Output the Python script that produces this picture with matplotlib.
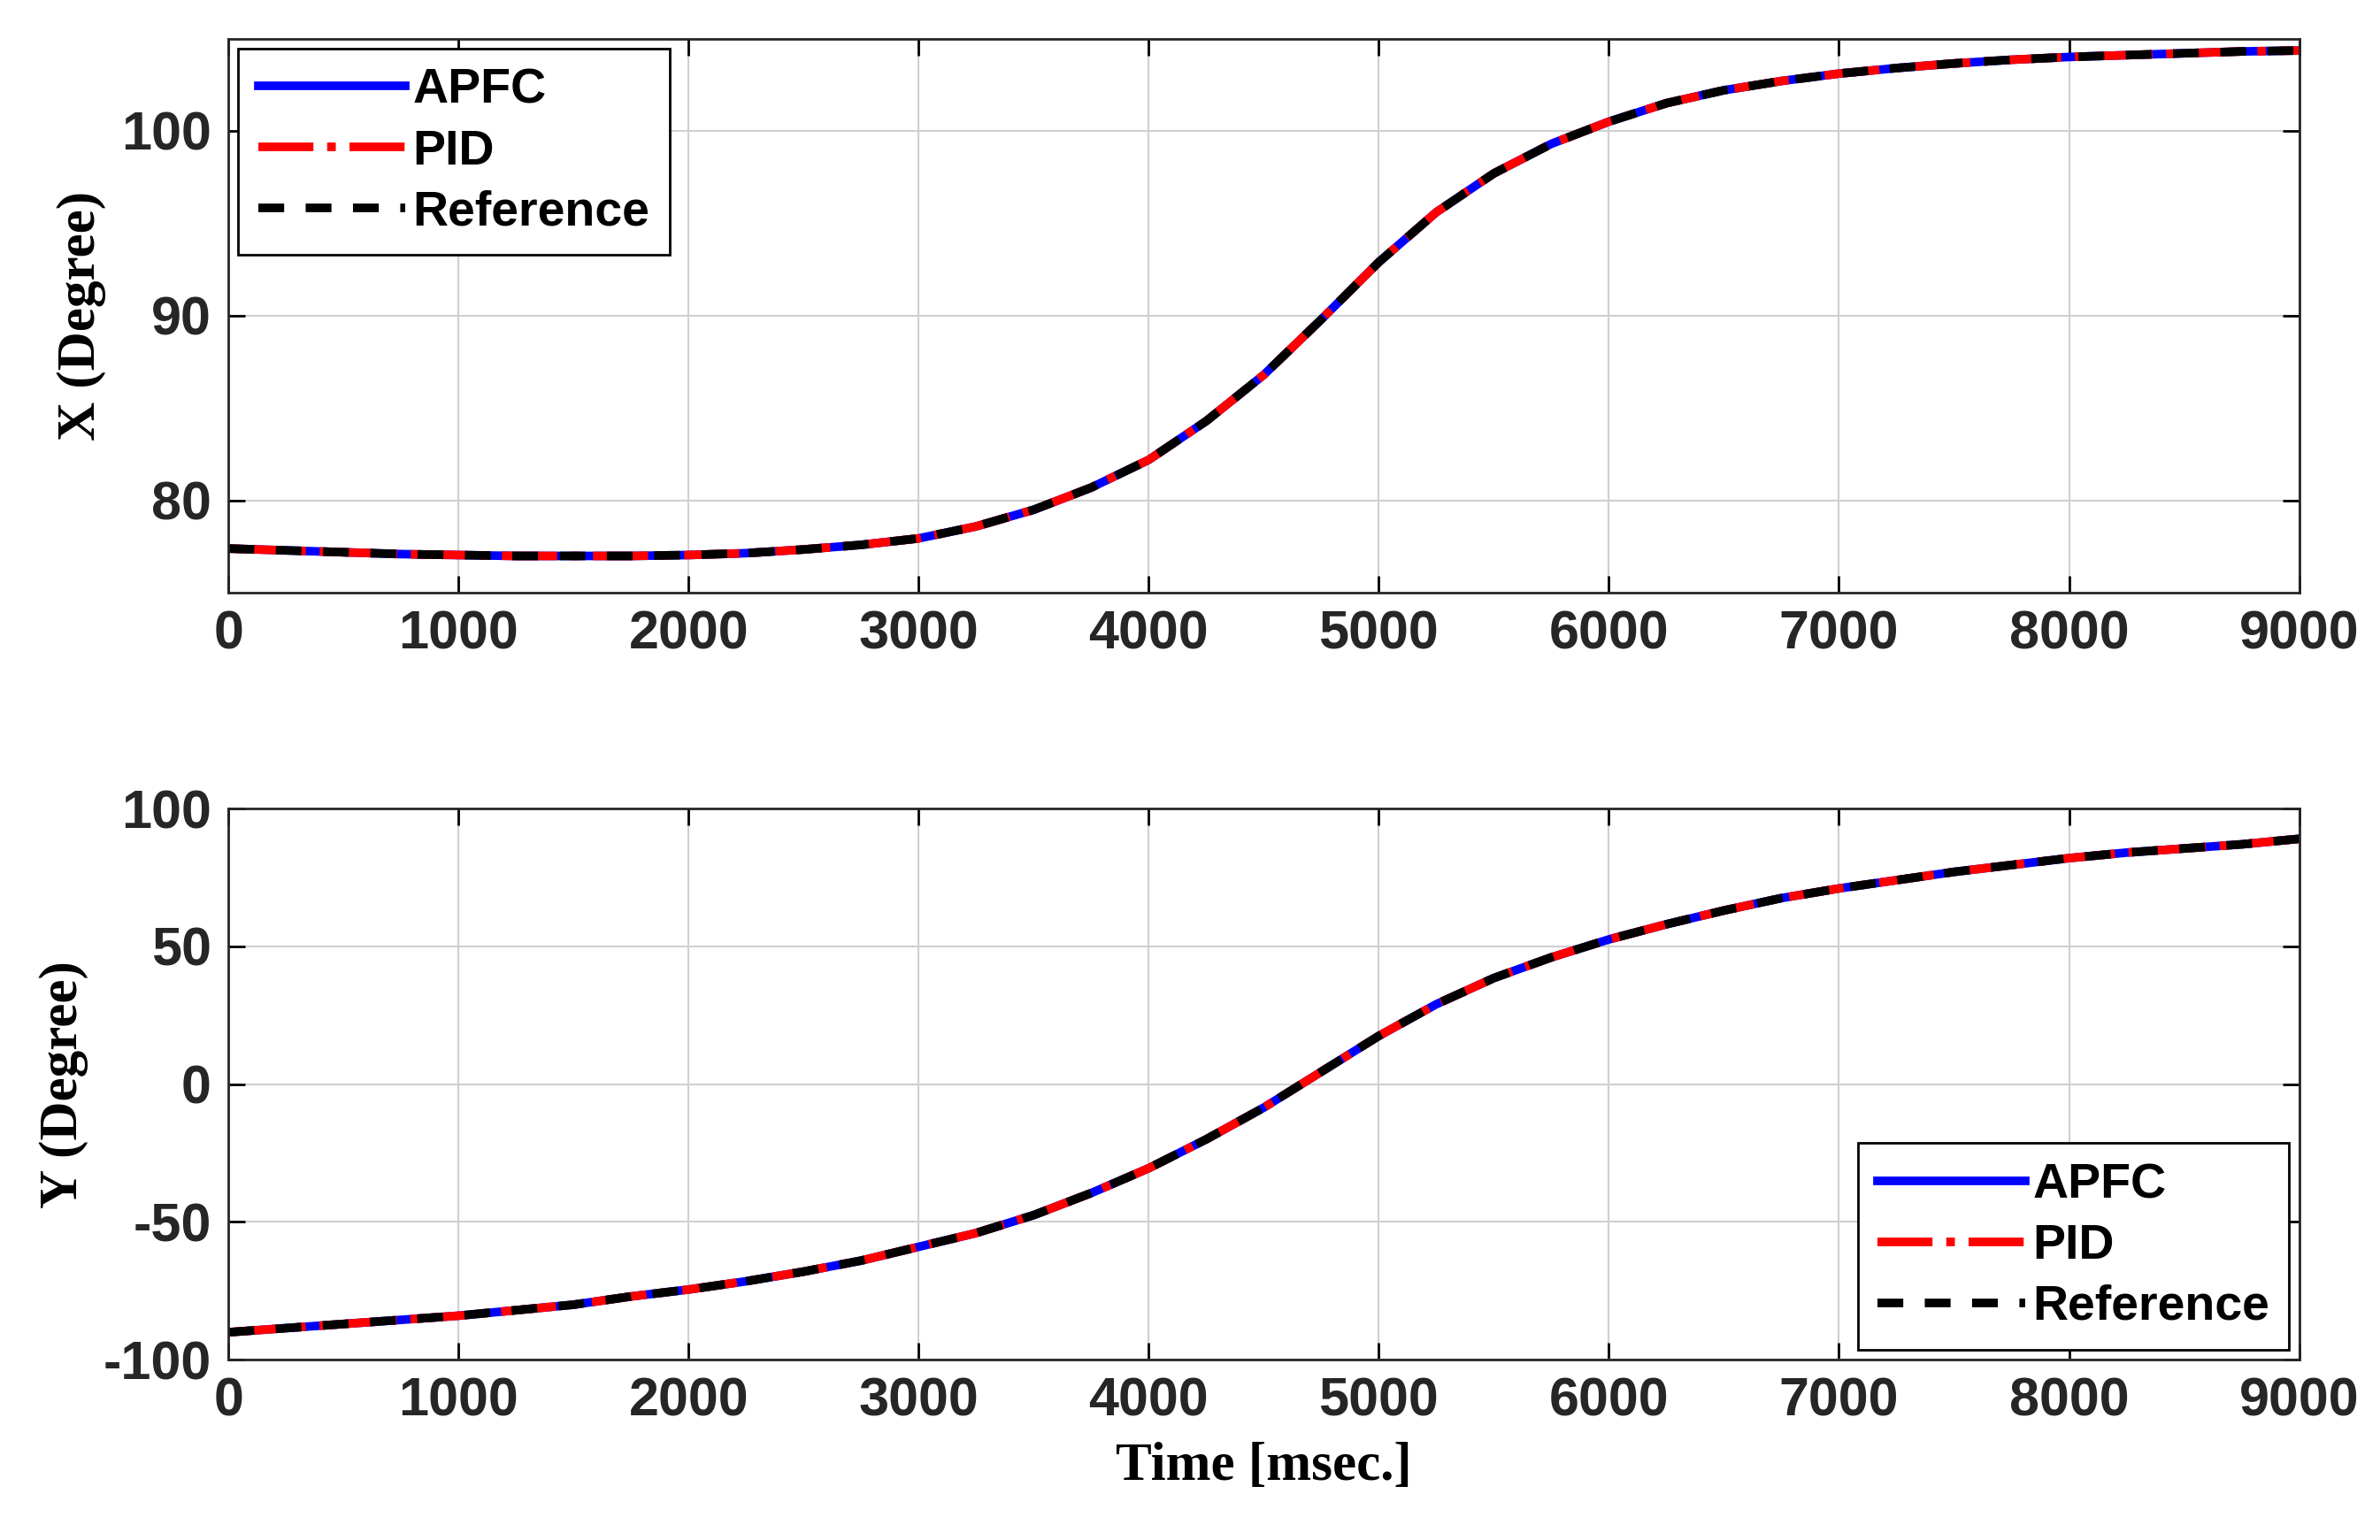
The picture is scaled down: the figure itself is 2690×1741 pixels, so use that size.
import numpy as np
import matplotlib
matplotlib.use("Agg")
import matplotlib.pyplot as plt

plt.rcParams['axes.unicode_minus'] = False

t = [0, 250, 500, 750, 1000, 1250, 1500, 1750, 2000, 2250, 2500, 2750, 3000, 3250, 3500, 3750,
     4000, 4250, 4500, 4750, 5000, 5250, 5500, 5750, 6000, 6250, 6500, 6750, 7000, 7250, 7500,
     7750, 8000, 8250, 8500, 8750, 9000]
x_ref = [77.4, 77.3, 77.2, 77.1, 77.05, 77.0, 77.0, 77.0, 77.05, 77.15, 77.35, 77.6, 77.95, 78.6, 79.5, 80.7,
         82.2, 84.3, 86.8, 89.8, 92.9, 95.6, 97.7, 99.3, 100.5, 101.5, 102.2, 102.7, 103.1, 103.4, 103.65,
         103.85, 104.0, 104.1, 104.2, 104.3, 104.35]
y_ref = [-90, -88.5, -87, -85.5, -84, -82, -80, -77, -74.5, -71.5, -68, -64, -59, -54, -47.5, -39.5,
         -30.5, -20, -8.5, 4.5, 17.5, 29, 38.5, 46, 52.5, 58, 63, 67.5, 71, 74, 77,
         79.5, 82, 84, 85.5, 87, 89]

fig = plt.figure(figsize=(26.9, 17.41), dpi=100)
ax1 = fig.add_axes([0.096, 0.615, 0.87, 0.36])
ax2 = fig.add_axes([0.096, 0.117, 0.87, 0.358])

tickfont = dict(family="Liberation Sans", weight="bold", size=44)
labfont = dict(family="Liberation Serif", weight="bold", size=44)

for ax, y, ylim, yt, lab, loc in [
    (ax1, x_ref, (75, 105), [80, 90, 100], "X (Degree)", "upper left"),
    (ax2, y_ref, (-100, 100), [-100, -50, 0, 50, 100], "Y (Degree)", "lower right"),
]:
    ax.plot(t, y, color="blue", lw=7, label="APFC")
    ax.plot(t, y, color="red", lw=7, ls="-.", label="PID")
    ax.plot(t, y, color="black", lw=7, ls=(0, (3, 2.5)), label="Reference")
    ax.set_xlim(0, 9000)
    ax.set_ylim(*ylim)
    ax.set_xticks(range(0, 9001, 1000))
    ax.set_yticks(yt)
    ax.grid(True, color="#d0d0d0", lw=1.5)
    ax.tick_params(direction="in", length=14, width=2, right=True, top=True, pad=14)
    for l in ax.get_xticklabels() + ax.get_yticklabels():
        l.set_fontproperties(matplotlib.font_manager.FontProperties(**tickfont))
        l.set_color("#262626")
    for s in ax.spines.values():
        s.set_linewidth(2)
        s.set_color("#262626")
    ax.set_ylabel(lab, fontdict=labfont, labelpad=12)
    leg = ax.legend(loc=loc, prop=matplotlib.font_manager.FontProperties(**dict(tickfont, size=40)),
                    fancybox=False, edgecolor="black", framealpha=1, handlelength=3.0,
                    handletextpad=0.15, borderaxespad=0.2, labelspacing=0.3)
    leg.get_frame().set_linewidth(2)

ax2.set_xlabel("Time [msec.]", fontdict=labfont, labelpad=12)
fig.savefig("out.png", dpi=100)
